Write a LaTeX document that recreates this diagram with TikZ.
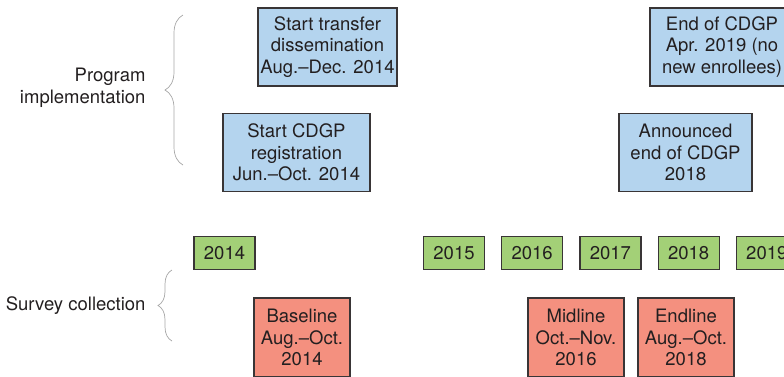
\documentclass[tikz,border=0pt]{standalone}
\usepackage{fontspec}
\setmainfont{TeX Gyre Heros}
\usetikzlibrary{positioning,decorations.pathreplacing}
\definecolor{evblue}{HTML}{B4D4EE}
\definecolor{evgreen}{HTML}{A3D077}
\definecolor{evred}{HTML}{F4907F}
\definecolor{ink}{HTML}{231F20}
\tikzset{%
	event/.style={draw=ink!90, line width=1.2pt, fill=evblue, align=center, text=ink, inner sep=0pt, minimum height=78pt},
	yearbox/.style={draw=ink!90, line width=1.2pt, fill=evgreen, text=ink, minimum width=61pt, minimum height=33pt, inner sep=0pt},
	survey/.style={event, fill=evred, minimum width=96pt, minimum height=79pt},
	grp/.style={decorate, decoration={brace, amplitude=#1}, draw=gray!70, line width=0.7pt},
	grplabel/.style={align=right, text=ink, anchor=east}
}
\begin{document}
\begin{tikzpicture}[x=1pt, y=1pt, node distance=16pt, font=\fontsize{18.5}{21.5}\selectfont]
			\useasboundingbox (0,0) rectangle (784,-376);
			\clip (0,0) rectangle (784,-376);
			
			\node[event, minimum width=139pt] (transfer) at (327.5,-47) {Start transfer\\dissemination\\Aug.--Dec. 2014};
			\node[event, minimum width=147pt] (register) at (296.5,-152.5) {Start CDGP\\registration\\Jun.--Oct. 2014};
			\node[event, minimum width=144pt] (closing) at (722,-47) {End of CDGP\\Apr. 2019 (no\\new enrollees)};
			\node[event, minimum width=133pt] (announce) at (685.5,-152.5) {Announced\\end of CDGP\\2018};
			
			\node[yearbox] (y2014) at (224.5,-253) {2014};
			\node[yearbox] (y2015) at (454,-253) {2015};
			\node[yearbox] (y2016) [right=of y2015] {2016};
			\node[yearbox] (y2017) [right=of y2016] {2017};
			\node[yearbox] (y2018) [right=of y2017] {2018};
			\node[yearbox] (y2019) [right=of y2018] {2019};
			
			\node[survey] (baseline) at (302,-337.5) {Baseline\\Aug.--Oct.\\2014};
			\node[survey] (midline) at (576,-337.5) {Midline\\Oct.--Nov.\\2016};
			\node[survey] (endline) at (686,-337.5) {Endline\\Aug.--Oct.\\2018};
			
			\coordinate (progtop) at (183,-15);
			\coordinate (progbot) at (183,-165);
			\draw[grp=18pt] (progbot) -- (progtop);
			\node[grplabel] (progtext) at (149,-88) {Program\\implementation};
			
			\coordinate (survtop) at (172,-270);
			\coordinate (survbot) at (172,-341);
			\draw[grp=14pt] (survbot) -- (survtop);
			\node[grplabel] (survtext) at (149,-306) {Survey collection};
			
		\end{tikzpicture}
\end{document}
